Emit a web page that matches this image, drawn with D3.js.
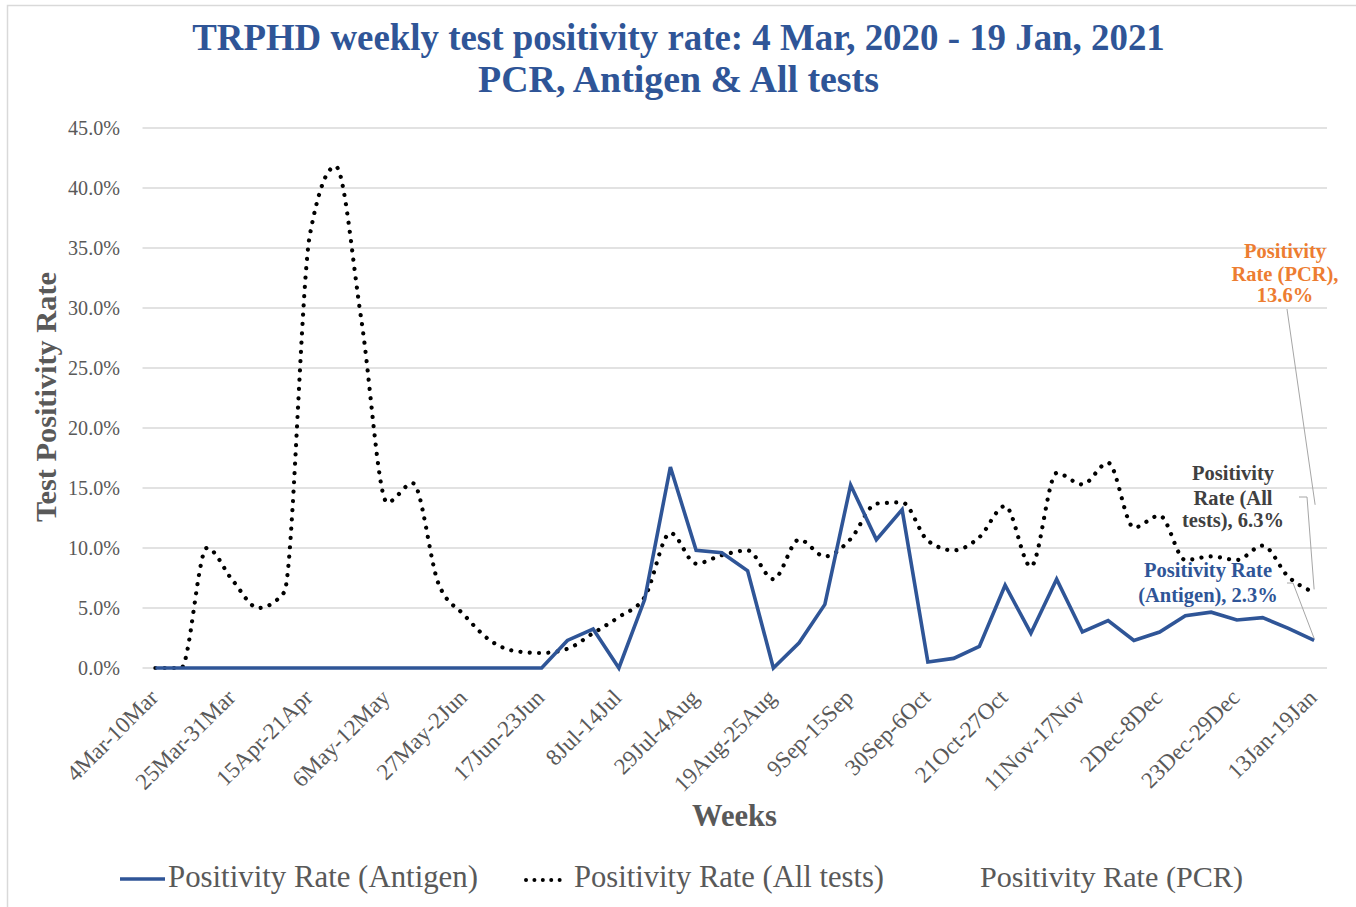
<!DOCTYPE html>
<html>
<head>
<meta charset="utf-8">
<script src="https://cdn.jsdelivr.net/npm/d3@7"></script>
<style>
  html, body { margin: 0; padding: 0; background: #fff; }
  svg { display: block; }
  text { font-family: "Liberation Serif", "DejaVu Serif", serif; }
</style>
</head>
<body>
<svg id="chart" width="1356" height="907"></svg>
<script>
// ---------------- DATA ----------------
const weeks = ["4Mar-10Mar","11Mar-17Mar","18Mar-24Mar","25Mar-31Mar","1Apr-7Apr","8Apr-14Apr","15Apr-21Apr","22Apr-28Apr","29Apr-5May","6May-12May","13May-19May","20May-26May","27May-2Jun","3Jun-9Jun","10Jun-16Jun","17Jun-23Jun","24Jun-30Jun","1Jul-7Jul","8Jul-14Jul","15Jul-21Jul","22Jul-28Jul","29Jul-4Aug","5Aug-11Aug","12Aug-18Aug","19Aug-25Aug","26Aug-1Sep","2Sep-8Sep","9Sep-15Sep","16Sep-22Sep","23Sep-29Sep","30Sep-6Oct","7Oct-13Oct","14Oct-20Oct","21Oct-27Oct","28Oct-3Nov","4Nov-10Nov","11Nov-17Nov","18Nov-24Nov","25Nov-1Dec","2Dec-8Dec","9Dec-15Dec","16Dec-22Dec","23Dec-29Dec","30Dec-5Jan","6Jan-12Jan","13Jan-19Jan"];

// Positivity rate (%) – Antigen
const antigen = [0,0,0,0,0,0,0,0,0,0,0,0,0,0,0,0,
  2.3,3.25,0,5.7,16.75,9.8,9.6,8.1,0,2.1,5.3,15.25,10.7,13.2,
  0.5,0.8,1.8,6.9,2.9,7.4,3.0,3.95,2.3,3.0,4.35,4.65,4.0,4.2,3.3,2.3];

// Positivity rate (%) – All tests
const allTests = [0,0,10.0,7.3,5.0,6.3,36.1,41.8,29.0,13.8,15.4,7.0,4.4,2.3,1.4,
  1.25,1.6,2.9,4.25,5.9,11.25,8.7,9.4,9.8,7.4,10.7,9.3,10.75,13.7,13.8,
  10.6,9.8,10.9,13.5,8.45,16.25,15.3,17.1,11.7,12.7,9.0,9.3,9.0,10.2,7.6,6.3];

// PCR series: line not visible, only final data label
const pcrFinal = 13.6;

const yTicks = [0,5,10,15,20,25,30,35,40,45];
const legendLabels = ["Positivity Rate (Antigen)", "Positivity Rate (All tests)", "Positivity Rate (PCR)"];
const titleLines = ["TRPHD weekly test positivity rate: 4 Mar, 2020 - 19 Jan, 2021", "PCR, Antigen & All tests"];

// ---------------- STYLE ----------------
const BLUE = "#2F5597", GRAY = "#595959", GRID = "#d9d9d9", ORANGE = "#ED7D31", DARK = "#404040";

const svg = d3.select("#chart");

function fit(sel, target) {
  const n = sel.node();
  const fs = parseFloat(sel.attr("font-size"));
  const w = n.getComputedTextLength();
  if (w > 0) sel.attr("font-size", (fs * target / w).toFixed(2));
  return sel;
}

// outer frame
svg.append("path").attr("d", "M7.5,907 V5.5 H1356").attr("fill", "none").attr("stroke", GRID).attr("stroke-width", 1.5);

// scales
const x = d3.scaleBand().domain(weeks).range([142.5, 1327]).padding(0);
const xc = d => x(d) + x.bandwidth() / 2;
const y = d3.scaleLinear().domain([0, 45]).range([668, 128]);

// gridlines
svg.append("g").selectAll("line").data(yTicks).join("line")
  .attr("x1", 142.5).attr("x2", 1327)
  .attr("y1", d => y(d)).attr("y2", d => y(d))
  .attr("stroke", GRID).attr("stroke-width", 1.3);

// y axis labels
const yAxis = svg.append("g").attr("transform", "translate(120,0)")
  .call(d3.axisLeft(y).tickValues(yTicks).tickFormat(d => d.toFixed(1) + "%").tickSize(0).tickPadding(0));
yAxis.select(".domain").remove();
yAxis.selectAll("text").attr("font-family", "Liberation Serif").attr("font-size", 20).attr("fill", GRAY).attr("dy", "0.33em");
{
  const t = yAxis.selectAll("text").filter(d => d === 45);
  const w = t.node().getComputedTextLength();
  const fs = 20 * 52 / w;
  yAxis.selectAll("text").attr("font-size", fs.toFixed(2));
}

// x axis labels (every 3rd week)
const xAxis = svg.append("g").attr("transform", "translate(0,668)")
  .call(d3.axisBottom(x).tickValues(weeks.filter((d, i) => i % 3 === 0)).tickSize(0).tickPadding(0));
xAxis.select(".domain").remove();
xAxis.selectAll("text")
  .attr("font-family", "Liberation Serif")
  .attr("font-size", 20).attr("fill", GRAY)
  .attr("text-anchor", "end").attr("dy", 0).attr("y", 0)
  .attr("transform", "translate(4,31) rotate(-45)");
{
  const t = xAxis.selectAll("text").filter(d => d === "25Mar-31Mar");
  const w = t.node().getComputedTextLength();
  const fs = 20 * 130 / w;
  xAxis.selectAll("text").attr("font-size", fs.toFixed(2));
}

// All tests – dotted smooth line
const lineAll = d3.line().x((d, i) => xc(weeks[i])).y(d => y(d)).curve(d3.curveMonotoneX);
svg.append("path").datum(allTests).attr("d", lineAll)
  .attr("fill", "none").attr("stroke", "#000").attr("stroke-width", 4.2)
  .attr("stroke-linecap", "round").attr("stroke-dasharray", "0.01 9.3");

// Antigen – solid line
const lineAnt = d3.line().x((d, i) => xc(weeks[i])).y(d => y(d));
svg.append("path").datum(antigen).attr("d", lineAnt)
  .attr("fill", "none").attr("stroke", BLUE).attr("stroke-width", 3.6).attr("stroke-linejoin", "miter");

// titles
const title1 = svg.append("text").attr("x", 678.5).attr("y", 50).attr("text-anchor", "middle")
  .attr("font-weight", "bold").attr("font-size", 34).attr("fill", BLUE).text(titleLines[0]);
fit(title1, 973);
const title2 = svg.append("text").attr("x", 678.5).attr("y", 92).attr("text-anchor", "middle")
  .attr("font-weight", "bold").attr("font-size", 34).attr("fill", BLUE).text(titleLines[1]);
fit(title2, 401);

// axis titles
const yTitle = svg.append("text").attr("transform", "translate(56,397) rotate(-90)").attr("text-anchor", "middle")
  .attr("font-weight", "bold").attr("font-size", 26).attr("fill", GRAY).text("Test Positivity Rate");
fit(yTitle, 250);
const xTitle = svg.append("text").attr("x", 734.5).attr("y", 826).attr("text-anchor", "middle")
  .attr("font-weight", "bold").attr("font-size", 26).attr("fill", GRAY).text("Weeks");
fit(xTitle, 85);

// data labels
const lastW = weeks[weeks.length - 1];
const lx = xc(lastW);
function dataLabel(lines, cx, baselines, color) {
  const g = svg.append("g");
  lines.forEach((s, i) => {
    g.append("text").attr("x", cx).attr("y", baselines[i]).attr("text-anchor", "middle")
      .attr("font-weight", "bold").attr("font-size", 17).attr("fill", color).text(s);
  });
  return g;
}
const lblPCR = dataLabel(["Positivity", "Rate (PCR),", pcrFinal.toFixed(1) + "%"], 1285, [258, 281, 302], ORANGE);
const lblAll = dataLabel(["Positivity", "Rate (All", "tests), " + allTests[allTests.length - 1].toFixed(1) + "%"], 1233, [480, 505, 527], DARK);
const lblAnt = dataLabel(["Positivity Rate", "(Antigen), " + antigen[antigen.length - 1].toFixed(1) + "%"], 1208, [577, 602], BLUE);
{
  const ref = lblAll.select("text").node();
  const fs = 17 * 82 / ref.getComputedTextLength();
  [lblPCR, lblAll, lblAnt].forEach(g => g.selectAll("text").attr("font-size", fs.toFixed(2)));
}

// leader lines
const leader = svg.append("g").attr("fill", "none").attr("stroke", "#a6a6a6").attr("stroke-width", 1);
leader.append("path").attr("d", `M1287,309 L${lx + 1},${y(pcrFinal)}`);
leader.append("path").attr("d", `M1299,497 H1307 L${lx},${y(allTests[allTests.length - 1]) - 3}`);
leader.append("path").attr("d", `M1287,583 H1293 L${lx},${y(antigen[antigen.length - 1]) - 2}`);

// legend
const lg = svg.append("g");
lg.append("line").attr("x1", 120).attr("x2", 165).attr("y1", 879).attr("y2", 879).attr("stroke", BLUE).attr("stroke-width", 3.6);
lg.append("line").attr("x1", 526).attr("x2", 568).attr("y1", 880).attr("y2", 880).attr("stroke", "#000").attr("stroke-width", 4)
  .attr("stroke-linecap", "round").attr("stroke-dasharray", "0.01 8.4");
const legX = [168, 574, 980], legW = [310, 310, 263];
legendLabels.forEach((s, i) => {
  const t = lg.append("text").attr("x", legX[i]).attr("y", 887).attr("font-size", 24).attr("fill", GRAY).text(s);
  fit(t, legW[i]);
});
</script>
</body>
</html>
